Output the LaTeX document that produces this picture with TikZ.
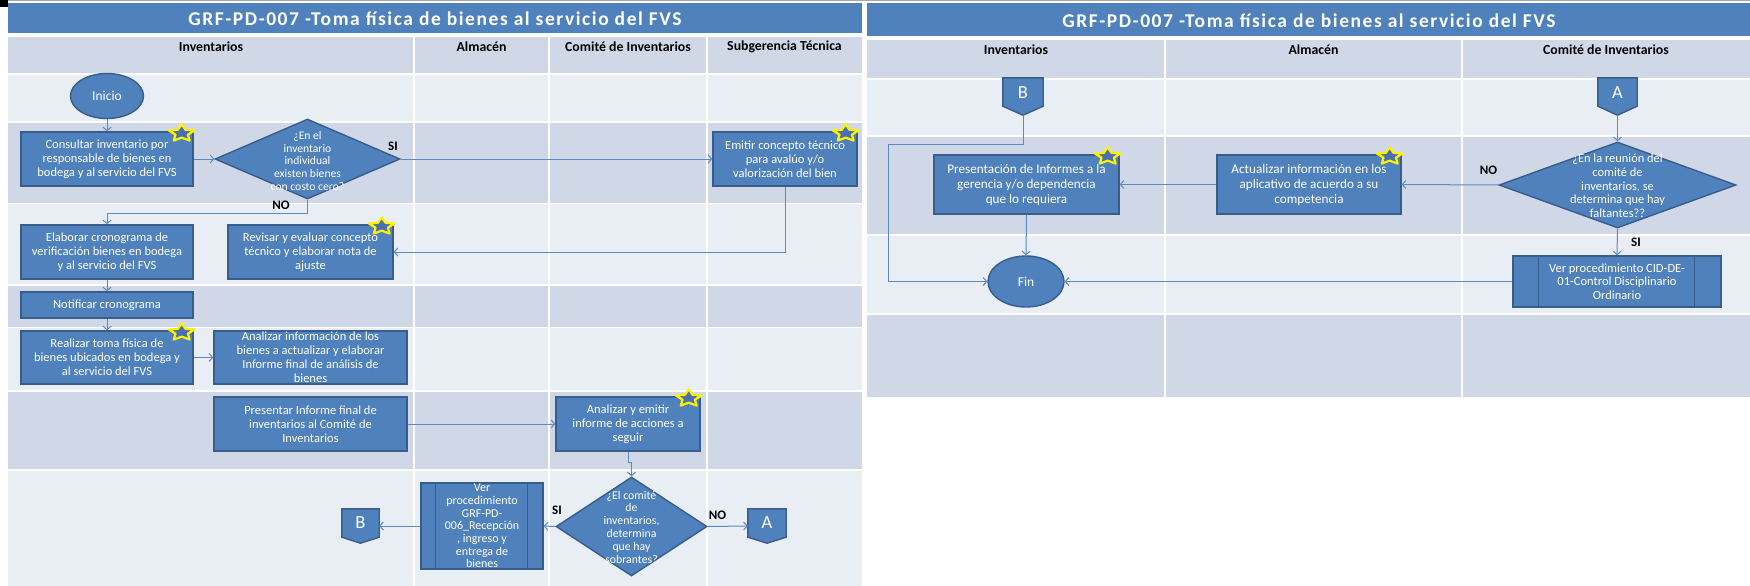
\documentclass[tikz,border=0pt]{standalone}
\usepackage{fontspec}
\setmainfont{Carlito}
\newfontfamily\titlefam[LetterSpace=8]{Carlito}
\usetikzlibrary{shapes.geometric,arrows.meta,calc}
\definecolor{hdrblue}{HTML}{4F81BD}
\definecolor{boxblue}{HTML}{4F81BD}
\definecolor{boxedge}{HTML}{385D8A}
\definecolor{rowdark}{HTML}{D0D8E8}
\definecolor{rowlight}{HTML}{E9EDF4}
\definecolor{linkblue}{HTML}{5A8AC6}
\definecolor{starfill}{HTML}{4A6FB0}
\tikzset{
  procbox/.style={draw=boxedge, fill=boxblue, line width=1.4pt, rectangle, inner sep=0pt},
  termbox/.style={draw=boxedge, fill=boxblue, line width=1.4pt, ellipse, inner sep=0pt, text=white, font=\fontsize{13.5}{15}\selectfont},
  decbox/.style={draw=boxedge, fill=boxblue, line width=1.4pt, diamond, inner sep=0pt},
  offpage/.style={inner sep=0pt},
  offshape/.style={draw=boxedge, fill=boxblue, line width=1.4pt, line join=miter},
  offletter/.style={text=white, font=\fontsize{18.5}{20}\selectfont, inner sep=0pt},
  btext/.style={text=white, align=center, font=\fontsize{12.5}{14}\selectfont, inner sep=0pt},
  rtext/.style={text=white, align=center, font=\fontsize{13.2}{15}\selectfont, inner sep=0pt},
  dtext/.style={text=white, align=center, font=\fontsize{11.6}{12.6}\selectfont, inner sep=0pt},
  link/.style={draw=linkblue, line width=1pt, -{Straight Barb[length=3.5pt,width=8pt]}},
  yn/.style={font=\bfseries\fontsize{13}{14}\selectfont, text=black, inner sep=0pt},
  lanehead/.style={font=\bfseries\fontsize{13.8}{15}\selectfont, text=black, inner sep=0pt},
  titletext/.style={font=\titlefam\bfseries\fontsize{19.5}{22}\selectfont, text=white, inner sep=0pt},
  sepline/.style={draw=white, line width=1.6pt},
  pics/kstar/.style={code={
    \draw[draw=yellow, line width=2.2pt, fill=starfill, line join=round]
      (90:1) -- (126:0.48) -- (162:1) -- (198:0.48) -- (234:1) -- (270:0.48)
      -- (306:1) -- (342:0.48) -- (18:1) -- (54:0.48) -- cycle;
  }},
}
\begin{document}
\begin{tikzpicture}[x=1pt, y=-1pt]
\useasboundingbox (0,0) rectangle (1750,586);
\fill[white] (0,0) rectangle (1750,586);
\fill[black] (0,0) rectangle (8,7);
\draw[gray!70, line width=1.5pt] (8,0.75) -- (1750,0.75);

% ---------------- left panel background ----------------
\fill[hdrblue] (8,3) rectangle (862,33);
\fill[rowdark] (8,37) rectangle (862,74);
\fill[rowlight] (8,74) rectangle (862,122);
\fill[rowdark] (8,122) rectangle (862,203.5);
\fill[rowlight] (8,203.5) rectangle (862,285);
\fill[rowdark] (8,285) rectangle (862,327.5);
\fill[rowlight] (8,327.5) rectangle (862,391);
\fill[rowdark] (8,391) rectangle (862,470);
\fill[rowlight] (8,470) rectangle (862,586);
\foreach \yy in {74,122,203.5,285,327.5,391,470} \draw[sepline] (8,\yy) -- (862,\yy);
\foreach \xx in {414,549,707} \draw[sepline] (\xx,37) -- (\xx,586);

% ---------------- right panel background ----------------
\fill[hdrblue] (867,3) rectangle (1750,36);
\fill[rowdark] (867,40) rectangle (1750,79);
\fill[rowlight] (867,79) rectangle (1750,136);
\fill[rowdark] (867,136) rectangle (1750,235);
\fill[rowlight] (867,235) rectangle (1750,314);
\fill[rowdark] (867,314) rectangle (1750,397);
\foreach \yy in {79,136,235,314} \draw[sepline] (867,\yy) -- (1750,\yy);
\foreach \xx in {1165,1462} \draw[sepline] (\xx,40) -- (\xx,397);

% ---------------- titles and lane headers ----------------
\node[titletext] (title-l) at (435,19) {GRF-PD-007 -Toma física de bienes al servicio del FVS};
\node[titletext] (title-r) at (1309,21) {GRF-PD-007 -Toma física de bienes al servicio del FVS};
\node[lanehead] (h-inv) at (211,47) {Inventarios};
\node[lanehead] (h-alm) at (481.5,47) {Almacén};
\node[lanehead] (h-com) at (628,47) {Comité de Inventarios};
\node[lanehead] (h-sub) at (784.5,47) {Subgerencia Técnica};
\node[lanehead] (h-inv2) at (1016,50) {Inventarios};
\node[lanehead] (h-alm2) at (1313.5,50) {Almacén};
\node[lanehead] (h-com2) at (1606,50) {Comité de Inventarios};

% ---------------- left panel nodes ----------------
\node[termbox, minimum width=73pt, minimum height=45pt] (inicio) at (107,96) {Inicio};

\node[procbox, minimum width=172pt, minimum height=54pt] (consultar) at (107,159) {};
\node[btext] (consultar-t) at (consultar) {Consultar inventario por\\responsable de bienes en\\bodega y al servicio del FVS};

\node[decbox, minimum width=185pt, minimum height=80pt] (d1) at (307.5,159) {};
\node[dtext] (d1-t) at (307.5,161) {¿En el\\inventario\\individual\\existen bienes\\con costo cero?};

\node[procbox, minimum width=144pt, minimum height=54pt] (emitir) at (785,159) {};
\node[btext] (emitir-t) at (emitir) {Emitir concepto técnico\\para avalúo y/o\\valorización del bien};

\node[procbox, minimum width=172pt, minimum height=54pt] (elaborar) at (107,252) {};
\node[btext] (elaborar-t) at (elaborar) {Elaborar cronograma de\\verificación bienes en bodega\\y al servicio del FVS};

\node[procbox, minimum width=165pt, minimum height=54pt] (revisar) at (310.5,252) {};
\node[btext] (revisar-t) at (revisar) {Revisar y evaluar concepto\\técnico y elaborar nota de\\ajuste};

\node[procbox, minimum width=172pt, minimum height=26pt] (notificar) at (107,305) {};
\node[btext] (notificar-t) at (notificar) {Notificar cronograma};

\node[procbox, minimum width=172pt, minimum height=53pt] (realizar) at (107,357.5) {};
\node[btext] (realizar-t) at (realizar) {Realizar toma física de\\bienes ubicados en bodega y\\al servicio del FVS};

\node[procbox, minimum width=193pt, minimum height=53pt] (analizar) at (310.5,357.5) {};
\node[btext] (analizar-t) at (analizar) {Analizar información de los\\bienes a actualizar y elaborar\\Informe final de análisis de\\bienes};

\node[procbox, minimum width=193pt, minimum height=54pt] (presentar) at (310.5,424) {};
\node[btext] (presentar-t) at (presentar) {Presentar Informe final de\\inventarios al Comité de\\Inventarios};

\node[procbox, minimum width=144pt, minimum height=54pt] (acciones) at (628,424) {};
\node[btext] (acciones-t) at (acciones) {Analizar y emitir\\informe de acciones a\\seguir};

\node[decbox, minimum width=151pt, minimum height=99pt] (d2) at (631.5,526.5) {};
\node[dtext, font=\fontsize{11.8}{12.8}\selectfont] (d2-t) at (631.5,527) {¿El comité\\de\\inventarios,\\determina\\que hay\\sobrantes?};

\node[procbox, minimum width=122pt, minimum height=86pt] (vp1) at (482,526) {};
\draw[boxedge, line width=1.4pt] ($(vp1.north west)+(15pt,0pt)$) -- ($(vp1.south west)+(15pt,0pt)$);
\draw[boxedge, line width=1.4pt] ($(vp1.north east)+(-16pt,0pt)$) -- ($(vp1.south east)+(-16pt,0pt)$);
\node[btext, font=\fontsize{12}{12.7}\selectfont] (vp1-t) at (vp1) {Ver\\procedimiento\\GRF-PD-\\006\_Recepción\\, ingreso y\\entrega de\\bienes};

\node[offpage, minimum width=37pt, minimum height=34pt] (offB) at (360.5,526) {};
\draw[offshape] (offB.north west) -- (offB.north east) -- ($(offB.south east)+(0pt,6pt)$) -- (offB.south) -- ($(offB.south west)+(0pt,6pt)$) -- cycle;
\node[offletter] (offB-t) at ($(offB)+(0pt,3pt)$) {B};

\node[offpage, minimum width=38pt, minimum height=34pt] (offA) at (767,526) {};
\draw[offshape] (offA.north west) -- (offA.north east) -- ($(offA.south east)+(0pt,6pt)$) -- (offA.south) -- ($(offA.south west)+(0pt,6pt)$) -- cycle;
\node[offletter] (offA-t) at ($(offA)+(0pt,3pt)$) {A};

% ---------------- right panel nodes ----------------
\node[offpage, minimum width=40pt, minimum height=37pt] (offB2) at (1023,96.5) {};
\draw[offshape] (offB2.north west) -- (offB2.north east) -- ($(offB2.south east)+(0pt,9pt)$) -- (offB2.south) -- ($(offB2.south west)+(0pt,9pt)$) -- cycle;
\node[offletter] (offB2-t) at ($(offB2)+(0pt,4pt)$) {B};

\node[offpage, minimum width=39pt, minimum height=37pt] (offA2) at (1617.5,96.5) {};
\draw[offshape] (offA2.north west) -- (offA2.north east) -- ($(offA2.south east)+(0pt,9pt)$) -- (offA2.south) -- ($(offA2.south west)+(0pt,9pt)$) -- cycle;
\node[offletter] (offA2-t) at ($(offA2)+(0pt,4pt)$) {A};

\node[procbox, minimum width=185pt, minimum height=59pt] (presentacion) at (1026.5,184.5) {};
\node[rtext] (presentacion-t) at (presentacion) {Presentación de Informes a la\\gerencia y/o dependencia\\que lo requiera};

\node[procbox, minimum width=184pt, minimum height=59pt] (actualizar) at (1309,184.5) {};
\node[rtext] (actualizar-t) at (actualizar) {Actualizar información en los\\aplicativo de acuerdo a su\\competencia};

\node[decbox, minimum width=237pt, minimum height=86pt] (d3) at (1617.5,185) {};
\node[dtext, font=\fontsize{12.4}{13.7}\selectfont] (d3-t) at (1617.5,186) {¿En la reunión del\\comité de\\inventarios, se\\determina que hay\\faltantes??};

\node[procbox, minimum width=208pt, minimum height=51pt] (vp2) at (1617,281.5) {};
\draw[boxedge, line width=1.4pt] ($(vp2.north west)+(26pt,0pt)$) -- ($(vp2.south west)+(26pt,0pt)$);
\draw[boxedge, line width=1.4pt] ($(vp2.north east)+(-27pt,0pt)$) -- ($(vp2.south east)+(-27pt,0pt)$);
\node[rtext, font=\fontsize{12.5}{13.5}\selectfont] (vp2-t) at (vp2) {Ver procedimiento CID-DE-\\01-Control Disciplinario\\Ordinario};

\node[termbox, minimum width=76pt, minimum height=51pt] (fin) at (1026,281.5) {Fin};

% ---------------- stars ----------------
\foreach \nn in {consultar,emitir,revisar,realizar,acciones,presentacion,actualizar}
  \pic[xscale=13.5, yscale=-9] at ($(\nn.north east)+(-12pt,-2pt)$) {kstar};

% ---------------- connectors (left) ----------------
\draw[link] (inicio.south) -- (consultar.north);
\draw[link] (consultar.east) -- (d1.west);
\draw[link] (d1.east) -- (emitir.west);
\draw[link] (d1.south) -- ++(0,14) -| (elaborar.north);
\draw[link] (emitir.south) |- (revisar.east);
\draw[link] (elaborar.south) -- (notificar.north);
\draw[link] (notificar.south) -- (realizar.north);
\draw[link] (realizar.east) -- (analizar.west);
\draw[link] (presentar.east) -- (acciones.west);
\draw[link] (acciones.south) -- ++(0,11) -| (d2.north);
\draw[link] (d2.west) -- (vp1.east);
\draw[link] (vp1.west) -- (offB.east);
\draw[link] (d2.east) -- (offA.west);

\node[yn] (si1) at (393,146) {SI};
\node[yn] (no1) at (281,205) {NO};
\node[yn] (si2) at (557,510) {SI};
\node[yn] (no2) at (717.5,515) {NO};

% ---------------- connectors (right) ----------------
\coordinate (bturn) at (888,144);
\draw[link] (offB2.south) |- (bturn) |- (fin.west);
\draw[link] (presentacion.south) -- (fin.north);
\draw[link] (actualizar.west) -- (presentacion.east);
\draw[link] (offA2.south) -- (d3.north);
\draw[link] (d3.west) -- (actualizar.east);
\draw[link] (d3.south) -- (vp2.north);
\draw[link] (vp2.west) -- (fin.east);

\node[yn] (no3) at (1488.5,170) {NO};
\node[yn] (si3) at (1636,242) {SI};
\end{tikzpicture}
\end{document}
